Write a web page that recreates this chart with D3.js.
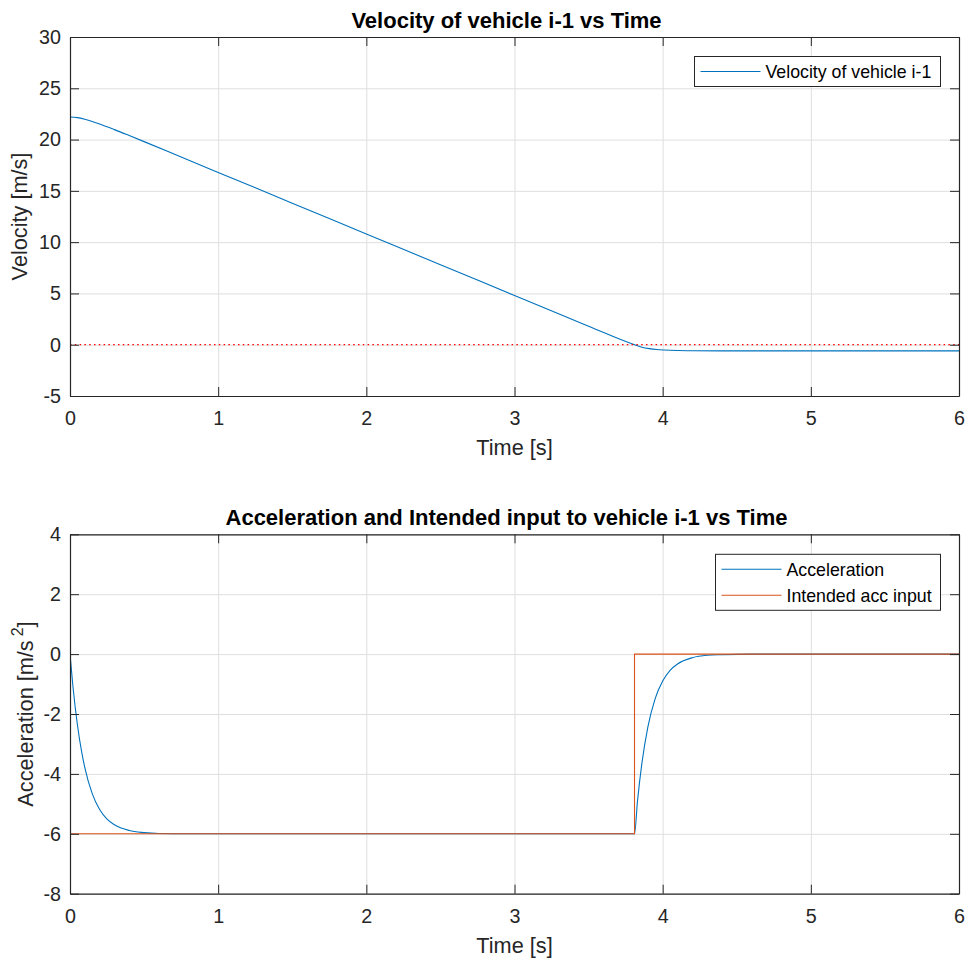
<!DOCTYPE html>
<html>
<head>
<meta charset="utf-8">
<script src="https://cdn.jsdelivr.net/npm/d3@7"></script>
<style>
  body { margin: 0; background: #fff; }
  svg { font-family: "Liberation Sans", Arial, Helvetica, sans-serif; }
  .tick text { fill: #262626; }
  .grid line { stroke: #dfdfdf; stroke-width: 1; }
  .grid .domain { display: none; }
</style>
</head>
<body>
<svg id="fig" width="966" height="963"></svg>
<script>
// ---- data ----
var timeTicks = [0, 1, 2, 3, 4, 5, 6];
var velTicks = [-5, 0, 5, 10, 15, 20, 25, 30];
var accTicks = [-8, -6, -4, -2, 0, 2, 4];

var velTime = [0, 0.05, 0.1, 0.15, 0.2, 0.3, 0.4, 0.5, 0.75, 1, 1.5, 2, 2.5, 3, 3.5, 3.81,
  3.86, 3.91, 3.96, 4.01, 4.1, 4.2, 4.4, 5, 5.5, 6];
var velValues = [22.2, 22.14, 21.98, 21.77, 21.52, 20.97, 20.39, 19.8, 18.3, 16.8, 13.8, 10.8, 7.8, 4.8, 1.8, 0.0,
  -0.24, -0.38, -0.47, -0.52, -0.57, -0.59, -0.6, -0.6, -0.6, -0.6];

var refTime = [0, 6];
var refValues = [0, 0];

var accTime = [0, 0.02, 0.05, 0.08, 0.1, 0.15, 0.2, 0.25, 0.3, 0.4, 0.5, 0.6, 0.8, 1, 2, 3, 3.81,
  3.83, 3.86, 3.9, 3.95, 4.0, 4.05, 4.1, 4.2, 4.3, 4.4, 4.6, 5, 6];
var accValues = [0, -1.09, -2.36, -3.3, -3.79, -4.66, -5.19, -5.51, -5.7, -5.89, -5.96, -5.99, -6, -6, -6, -6, -6,
  -4.91, -3.64, -2.44, -1.48, -0.9, -0.54, -0.33, -0.12, -0.04, -0.02, 0, 0, 0];

var inputTime = [0, 3.81, 3.81, 6];
var inputValues = [-6, -6, 0, 0];

var blue = "#0072BD", orange = "#D95319";
var tickFont = 19.7, labelFont = 21.7, titleFont = 22, legendFont = 17.75;

var svg = d3.select("#fig");

function drawPanel(opt) {
	var left = 70, right = 959, top = opt.top, bottom = opt.bottom;
	var w = right - left, h = bottom - top;
	var x = d3.scaleLinear().domain([0, 6]).range([0, w]);
	var y = d3.scaleLinear().domain(opt.yDomain).range([h, 0]);

	var g = svg.append("g").attr("transform", "translate(" + left + "," + top + ")");

	// grid
	g.append("g").attr("class", "grid")
		.attr("transform", "translate(0," + h + ")")
		.call(d3.axisBottom(x).tickValues(timeTicks).tickSize(-h).tickFormat(""));
	g.append("g").attr("class", "grid")
		.call(d3.axisLeft(y).tickValues(opt.yTicks).tickSize(-w).tickFormat(""));

	// lines
	var clipId = "clip" + opt.id;
	g.append("clipPath").attr("id", clipId)
		.append("rect").attr("width", w).attr("height", h);
	var plot = g.append("g").attr("clip-path", "url(#" + clipId + ")");

	opt.series.forEach(function(s) {
		var pts = s.t.map(function(t, i) { return [t, s.v[i]]; });
		var line = d3.line()
			.x(function(d) { return x(d[0]); })
			.y(function(d) { return y(d[1]); })
			.curve(s.smooth ? d3.curveMonotoneX : d3.curveLinear);
		plot.append("path")
			.attr("d", line(pts))
			.attr("fill", "none")
			.attr("stroke", s.color)
			.attr("stroke-width", s.width || 1.1)
			.attr("stroke-dasharray", s.dash || null);
	});

	// axes (ticks inside, box on)
	function styleAxis(sel) {
		sel.selectAll(".domain").attr("stroke", "#262626").attr("stroke-width", 1.2);
		sel.selectAll(".tick line").attr("stroke", "#262626").attr("stroke-width", 1);
		sel.selectAll("text").style("font-size", tickFont + "px");
	}
	g.append("g")
		.attr("transform", "translate(0," + h + ")")
		.call(d3.axisBottom(x).tickValues(timeTicks).tickSize(-9).tickSizeOuter(0).tickPadding(15)
			.tickFormat(function(d) { return String(d); }))
		.call(styleAxis);
	g.append("g")
		.call(d3.axisTop(x).tickValues(timeTicks).tickSize(-9).tickSizeOuter(0).tickFormat(""))
		.call(styleAxis);
	g.append("g")
		.call(d3.axisLeft(y).tickValues(opt.yTicks).tickSize(-9).tickSizeOuter(0).tickPadding(9)
			.tickFormat(function(d) { return String(d); }))
		.call(styleAxis);
	g.append("g")
		.attr("transform", "translate(" + w + ",0)")
		.call(d3.axisRight(y).tickValues(opt.yTicks).tickSize(-9).tickSizeOuter(0).tickFormat(""))
		.call(styleAxis);

	// title
	g.append("text")
		.attr("x", w / 2 - 8).attr("y", -9.5)
		.attr("text-anchor", "middle")
		.style("font-size", titleFont + "px")
		.style("font-weight", "bold")
		.attr("fill", "#000")
		.text(opt.title);

	// x label
	g.append("text")
		.attr("x", w / 2).attr("y", h + 59)
		.attr("text-anchor", "middle")
		.style("font-size", labelFont + "px")
		.attr("fill", "#262626")
		.text("Time [s]");

	// y label
	var yl = svg.append("text")
		.attr("transform", "translate(" + opt.yLabelX + "," + (top + h / 2) + ") rotate(-90)")
		.attr("text-anchor", "middle")
		.style("font-size", labelFont + "px")
		.attr("fill", "#262626");
	opt.yLabel(yl);

	// legend
	var lg = svg.append("g").attr("transform", "translate(" + opt.legend.x + "," + opt.legend.y + ")");
	lg.append("rect")
		.attr("width", opt.legend.w).attr("height", opt.legend.h)
		.attr("fill", "#fff").attr("stroke", "#262626").attr("stroke-width", 1);
	opt.series.filter(function(s) { return s.name; }).forEach(function(s, i) {
		var yy = opt.legend.rowY + i * 26;
		lg.append("line")
			.attr("x1", 6).attr("x2", 66).attr("y1", yy).attr("y2", yy)
			.attr("stroke", s.color).attr("stroke-width", 1.1);
		lg.append("text")
			.attr("x", 71).attr("y", yy).attr("dy", "0.35em")
			.style("font-size", legendFont + "px")
			.attr("fill", "#000")
			.text(s.name);
	});
}

drawPanel({
	id: "top", top: 37, bottom: 396,
	yDomain: [-5, 30], yTicks: velTicks,
	title: "Velocity of vehicle i-1 vs Time",
	yLabelX: 27,
	yLabel: function(t) { t.text("Velocity [m/s]"); },
	series: [
		{ t: velTime, v: velValues, color: blue, name: "Velocity of vehicle i-1", smooth: true },
		{ t: refTime, v: refValues, color: "#ff0000", dash: "1.5,3.3", width: 1.2 }
	],
	legend: { x: 694.5, y: 56.5, w: 246, h: 30, rowY: 15 }
});

drawPanel({
	id: "bot", top: 534.3, bottom: 893.7,
	yDomain: [-8, 4], yTicks: accTicks,
	title: "Acceleration and Intended input to vehicle i-1 vs Time",
	yLabelX: 33,
	yLabel: function(t) {
		t.append("tspan").text("Acceleration [m/s");
		t.append("tspan").attr("dx", 4).attr("dy", -10).style("font-size", "16px").text("2");
		t.append("tspan").attr("dy", 10).text("]");
	},
	series: [
		{ t: accTime, v: accValues, color: blue, name: "Acceleration", smooth: true },
		{ t: inputTime, v: inputValues, color: orange, name: "Intended acc input" }
	],
	legend: { x: 715.5, y: 554.3, w: 225, h: 56, rowY: 15 }
});
</script>
</body>
</html>
